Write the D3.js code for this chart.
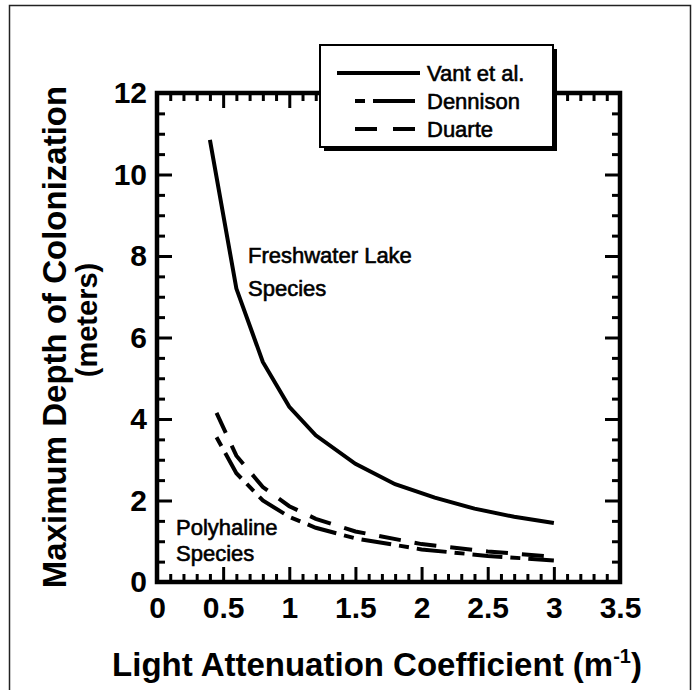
<!DOCTYPE html>
<html>
<head>
<meta charset="utf-8">
<script src="https://cdn.jsdelivr.net/npm/d3@7"></script>
<style>
	body { margin: 0; background: #fff; }
	svg { display: block; }
</style>
</head>
<body>
<div id="chart"></div>
<script>
// data (x = light attenuation coefficient, y = depth in m)
var vantK    = [0.4, 0.6, 0.8, 1.0, 1.2, 1.5, 1.8, 2.1, 2.4, 2.7, 3.0];
var vantZ    = [10.85, 7.2, 5.4, 4.3, 3.6, 2.9, 2.4, 2.07, 1.8, 1.6, 1.45];
var dennK    = [0.45, 0.6, 0.8, 1.0, 1.2, 1.5, 2.0, 2.5, 3.0];
var dennZ    = [3.55, 2.67, 2.0, 1.6, 1.33, 1.07, 0.8, 0.64, 0.53];
var duarK    = [0.45, 0.6, 0.8, 1.0, 1.2, 1.5, 2.0, 2.5, 3.0];
var duarZ    = [4.15, 3.1, 2.33, 1.86, 1.55, 1.24, 0.93, 0.75, 0.62];
var xTicks   = [0, 0.5, 1, 1.5, 2, 2.5, 3, 3.5];
var yTicks   = [0, 2, 4, 6, 8, 10, 12];
var seriesNames = ["Vant et al.", "Dennison", "Duarte"];

var W = 698, H = 690;
var margin = {left: 157, right: 78, top: 93, bottom: 108};
var FONT = "'Liberation Sans', Arial, sans-serif";

var svg = d3.select("#chart").append("svg")
	.attr("width", W)
	.attr("height", H);

// outer frame (bottom edge runs off the page)
svg.append("rect")
	.attr("x", 9.5).attr("y", 5.5)
	.attr("width", 681).attr("height", 690)
	.attr("fill", "none")
	.attr("stroke", "#222")
	.attr("stroke-width", 1.5);

var x = d3.scaleLinear().domain([0, 3.5]).range([margin.left, W - margin.right]);
var y = d3.scaleLinear().domain([0, 12]).range([H - margin.bottom, margin.top]);

var minorX = d3.range(0, 36).map(function(i) { return i / 10; }).filter(function(v) { return Math.round(v * 10) % 5 != 0; });
var minorY = d3.range(0, 25).map(function(i) { return i / 2; }).filter(function(v) { return v % 2 != 0; });

function styleTicks(g, w) {
	g.select(".domain").remove();
	g.selectAll(".tick line").attr("stroke", "#000").attr("stroke-width", w);
}

var yb = y(0), yt = y(12);

// major / minor ticks, all pointing into the plot
var gb = svg.append("g").attr("transform", "translate(0," + yb + ")")
	.call(d3.axisBottom(x).tickValues(xTicks).tickSizeInner(-15).tickSizeOuter(0).tickPadding(15).tickFormat(function(d) { return d; }));
styleTicks(gb, 3);
svg.append("g").attr("transform", "translate(0," + yb + ")")
	.call(d3.axisBottom(x).tickValues(minorX).tickSizeInner(-8).tickSizeOuter(0).tickFormat(""))
	.call(styleTicks, 3);
svg.append("g").attr("transform", "translate(0," + yt + ")")
	.call(d3.axisTop(x).tickValues(xTicks).tickSizeInner(-15).tickSizeOuter(0).tickFormat(""))
	.call(styleTicks, 3);
svg.append("g").attr("transform", "translate(0," + yt + ")")
	.call(d3.axisTop(x).tickValues(minorX).tickSizeInner(-8).tickSizeOuter(0).tickFormat(""))
	.call(styleTicks, 3);

var gl = svg.append("g").attr("transform", "translate(" + x(0) + ",0)")
	.call(d3.axisLeft(y).tickValues(yTicks).tickSizeInner(-15).tickSizeOuter(0).tickPadding(10).tickFormat(function(d) { return d; }));
styleTicks(gl, 3);
svg.append("g").attr("transform", "translate(" + x(0) + ",0)")
	.call(d3.axisLeft(y).tickValues(minorY).tickSizeInner(-8).tickSizeOuter(0).tickFormat(""))
	.call(styleTicks, 3);
svg.append("g").attr("transform", "translate(" + x(3.5) + ",0)")
	.call(d3.axisRight(y).tickValues(yTicks).tickSizeInner(-15).tickSizeOuter(0).tickFormat(""))
	.call(styleTicks, 3);
svg.append("g").attr("transform", "translate(" + x(3.5) + ",0)")
	.call(d3.axisRight(y).tickValues(minorY).tickSizeInner(-8).tickSizeOuter(0).tickFormat(""))
	.call(styleTicks, 3);

svg.selectAll(".tick text")
	.attr("fill", "#000")
	.style("font-family", FONT)
	.style("font-size", "30px")
	.style("font-weight", "bold");

// plot box
svg.append("rect")
	.attr("x", x(0)).attr("y", y(12))
	.attr("width", x(3.5) - x(0)).attr("height", y(0) - y(12))
	.attr("fill", "none")
	.attr("stroke", "#000")
	.attr("stroke-width", 4.5);

// curves
var line = d3.line()
	.x(function(d) { return x(d[0]); })
	.y(function(d) { return y(d[1]); });

var dashes = ["none", "10,8,30,8", "22,14"];
var legendDashes = ["none", "10,8,42,40", "22,16,22,40"];
var series = [d3.zip(vantK, vantZ), d3.zip(dennK, dennZ), d3.zip(duarK, duarZ)];

svg.selectAll(".curve")
	.data(series).enter()
	.append("path")
		.attr("class", "curve")
		.attr("d", line)
		.attr("fill", "none")
		.attr("stroke", "#000")
		.attr("stroke-width", 4)
		.attr("stroke-dasharray", function(d, i) { return dashes[i]; });

// annotations
var note = svg.append("g")
	.style("font-family", FONT)
	.style("font-size", "22px")
	.attr("fill", "#000")
	.attr("stroke", "#000")
	.attr("stroke-width", 0.6);
note.append("text").attr("x", 248).attr("y", 263).text("Freshwater Lake");
note.append("text").attr("x", 248).attr("y", 296).text("Species");
note.append("text").attr("x", 176).attr("y", 535).text("Polyhaline");
note.append("text").attr("x", 176).attr("y", 561).text("Species");

// axis titles
var xt = svg.append("text")
	.attr("x", 377).attr("y", 676)
	.attr("text-anchor", "middle")
	.style("font-family", FONT)
	.style("font-size", "33px")
	.style("font-weight", "bold")
	.text("Light Attenuation Coefficient (m");
xt.append("tspan").attr("dy", -13).style("font-size", "20px").text("-1");
xt.append("tspan").attr("dy", 13).text(")");

svg.append("text")
	.attr("transform", "translate(66,337) rotate(-90)")
	.attr("text-anchor", "middle")
	.style("font-family", FONT)
	.style("font-size", "33px")
	.style("font-weight", "bold")
	.text("Maximum Depth of Colonization");
svg.append("text")
	.attr("transform", "translate(97,320) rotate(-90)")
	.attr("text-anchor", "middle")
	.style("font-family", FONT)
	.style("font-size", "29px")
	.style("font-weight", "bold")
	.text("(meters)");

// legend with drop shadow
var lg = svg.append("g").attr("transform", "translate(320,45)");
lg.append("rect").attr("x", 4).attr("y", 4).attr("width", 233).attr("height", 102).attr("fill", "#000");
lg.append("rect").attr("x", 0).attr("y", 0).attr("width", 233).attr("height", 102)
	.attr("fill", "#fff").attr("stroke", "#000").attr("stroke-width", 2);

var rows = lg.selectAll(".row")
	.data(seriesNames).enter()
	.append("g")
		.attr("class", "row")
		.attr("transform", function(d, i) { return "translate(0," + (28 + i * 28) + ")"; });
rows.append("line")
	.attr("x1", function(d, i) { return i == 0 ? 17 : 35; })
	.attr("x2", 100)
	.attr("stroke", "#000").attr("stroke-width", 4)
	.attr("stroke-dasharray", function(d, i) { return legendDashes[i]; });
rows.append("text")
	.attr("x", 107).attr("dy", "0.36em")
	.style("font-family", FONT)
	.style("font-size", "22px")
	.attr("stroke", "#000")
	.attr("stroke-width", 0.6)
	.text(function(d) { return d; });
</script>
</body>
</html>
